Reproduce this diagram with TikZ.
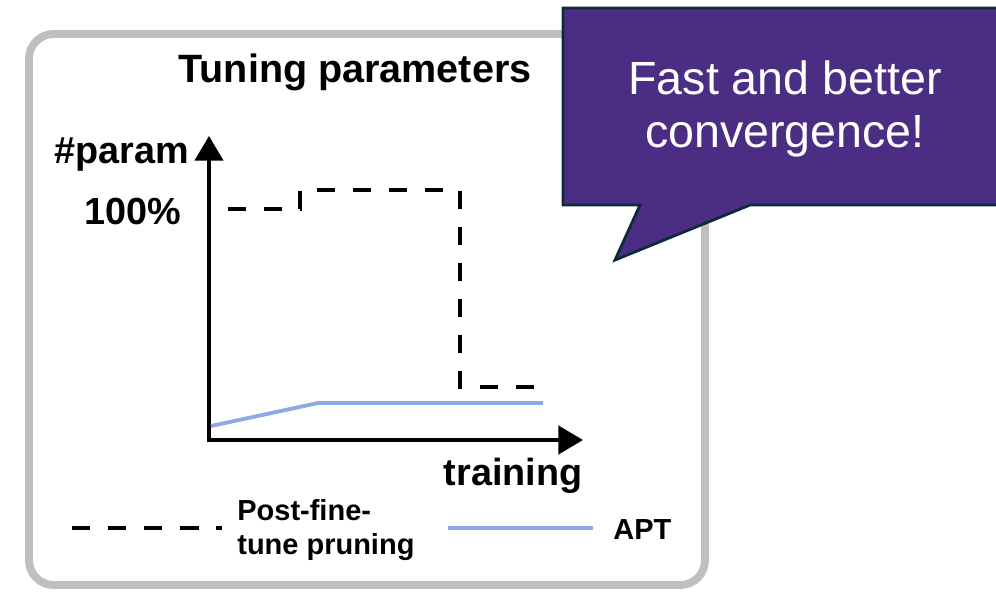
\documentclass[tikz,border=0pt]{standalone}
\usepackage{fontspec}
\setmainfont{Liberation Sans}
\usetikzlibrary{arrows.meta}
\definecolor{frame}{HTML}{BFBFBF}
\definecolor{apt}{HTML}{8FA9E6}
\definecolor{bubble}{HTML}{4B2E83}
\definecolor{bubbleline}{HTML}{0E2A3A}
\tikzset{
  axis/.style={line width=2.2pt, -{Triangle[length=14pt, width=16pt]}},
  pft/.style={line width=2.2pt, dash pattern=on 10.5pt off 10pt, dash phase=11pt},
  aptline/.style={apt, line width=2.2pt},
  label/.style={font=\bfseries\fontsize{21.5}{24}\selectfont, inner sep=0pt},
  legend/.style={font=\bfseries\fontsize{16.5}{19}\selectfont, inner sep=0pt, align=left}
}
\begin{document}
\begin{tikzpicture}[x=0.02cm, y=-0.02cm]
    \useasboundingbox (0,0) rectangle (996,592);
    % Frame
    \draw[frame, line width=4.5pt, rounded corners=14pt] (29,34) rectangle (705,585);
    \node[label, font=\bfseries\fontsize{22.5}{26}\selectfont] (title) at (355,72) {Tuning parameters};

    % Axes
    \coordinate (origin) at (209,440);
    \coordinate (ytip) at (209,136);
    \coordinate (xtip) at (583,440);
    \draw[axis] ([yshift=-1pt]origin) -- (ytip);
    \draw[axis] ([xshift=-1pt]origin) -- (xtip);
    \node[label, anchor=east] (yname) at (189,155) {\#param};
    \node[label, anchor=east] (full) at (181,211) {100\%};
    \node[label] (xname) at (513,476) {training};

    % Curves
    \draw[pft] (211,209) -- (300,209) -- (300,190) -- (460,190) -- (460,387) -- (543,387);
    \draw[aptline] (211,426) -- (318,403) -- (543,403);

    % Legend
    \coordinate (pftA) at (72,528);
    \coordinate (pftB) at (222,528);
    \draw[pft, dash phase=0pt] (pftA) -- (pftB);
    \node[legend, anchor=west] (pftname) at (237,530) {Post-fine-\\tune pruning};
    \coordinate (aptA) at (448,528);
    \coordinate (aptB) at (593,528);
    \draw[aptline] (aptA) -- (aptB);
    \node[legend, anchor=west] (aptname) at (613,530) {APT};

    % Callout
    \draw[bubbleline, fill=bubble, line width=1.6pt, line join=miter]
      (563,8) -- (1002,8) -- (1002,205) -- (750,205) -- (615,260) -- (640,205) -- (563,205) -- cycle;
    \node[white, align=center, font=\fontsize{26.5}{30}\selectfont] (note) at (785,109) {Fast and better\\convergence!};
\end{tikzpicture}
\end{document}
